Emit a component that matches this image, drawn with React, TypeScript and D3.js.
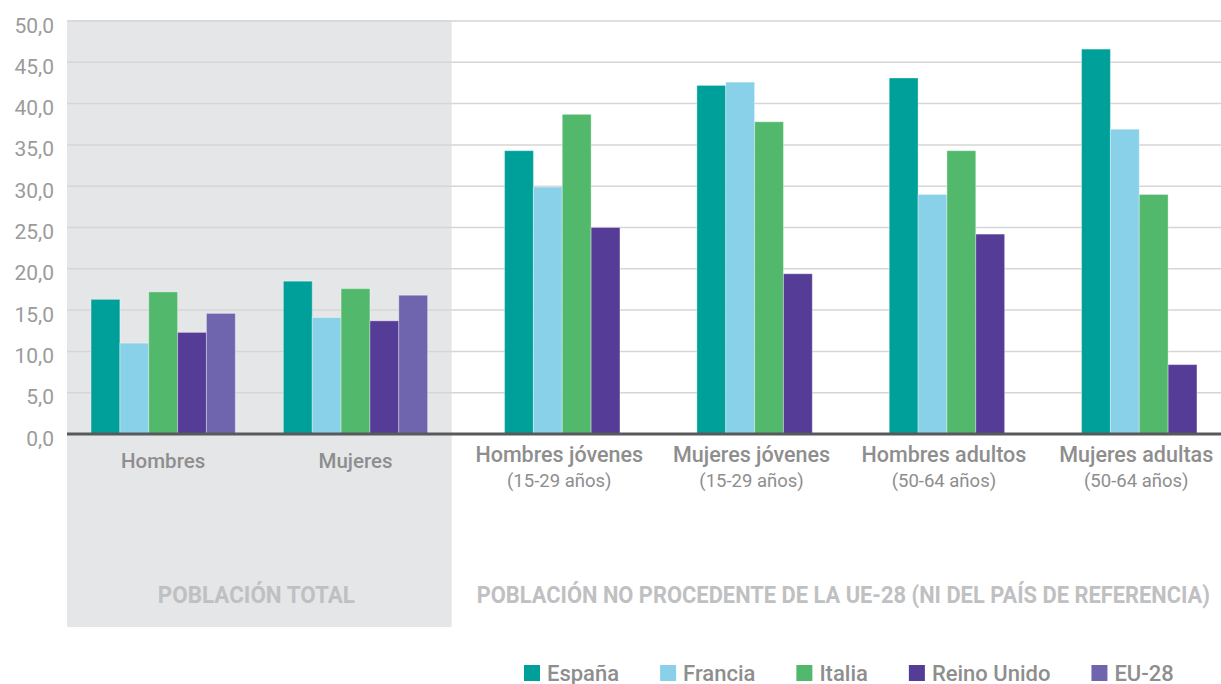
import React, { useEffect, useRef } from 'react';
import * as d3 from 'd3';

// categories on the x axis, with a second line for the age groups
const categories = ['Hombres', 'Mujeres', 'Hombres jóvenes', 'Mujeres jóvenes', 'Hombres adultos', 'Mujeres adultas'];
const subLabels = ['', '', '(15-29 años)', '(15-29 años)', '(50-64 años)', '(50-64 años)'];

const seriesNames = ['España', 'Francia', 'Italia', 'Reino Unido', 'EU-28'];
const seriesColors = ['#00A09A', '#89D1E8', '#52B96C', '#553C96', '#6E65AE'];

const espana = [16.3, 18.5, 34.3, 42.2, 43.1, 46.6];
const francia = [11.0, 14.1, 29.9, 42.6, 29.0, 36.9];
const italia = [17.2, 17.6, 38.7, 37.8, 34.3, 29.0];
const reinoUnido = [12.3, 13.7, 25.0, 19.4, 24.2, 8.4];
const eu28 = [14.6, 16.8, null, null, null, null];

const yTicks = [0, 5, 10, 15, 20, 25, 30, 35, 40, 45, 50];

const panelLabels = ['POBLACIÓN TOTAL', 'POBLACIÓN NO PROCEDENTE DE LA UE-28 (NI DEL PAÍS DE REFERENCIA)'];
const panelSpans = [[0, 1], [2, 5]];

const W = 1221;
const H = 684;
const margin = { top: 21, right: 0, bottom: 250, left: 67 };
const FONT = 'Roboto, "DejaVu Sans", sans-serif';

const App = () => {
    const svgRef = useRef(null);

    useEffect(() => {
        const svg = d3.select(svgRef.current);
        svg.selectAll('*').remove();

        const series = [espana, francia, italia, reinoUnido, eu28];
        const y0 = H - margin.bottom;

        const x = d3.scaleBand()
            .domain(categories)
            .range([margin.left, W - margin.right])
            .paddingInner(0.25)
            .paddingOuter(0.125);
        const step = x.step();

        const slot = d3.scaleBand()
            .domain(d3.range(seriesNames.length))
            .range([0, x.bandwidth()]);

        const y = d3.scaleLinear().domain([0, 50]).range([y0, margin.top]);

        // groups without EU-28 start one slot later (as in the original chart)
        const shiftFor = (ci) => (eu28[ci] == null ? 1 : 0);
        const barX = (ci, si) => x(categories[ci]) + slot(si + shiftFor(ci));
        const groupCenter = (ci) => {
            const n = series.filter(s => s[ci] != null).length;
            return x(categories[ci]) + slot(shiftFor(ci)) + (n * slot.bandwidth()) / 2;
        };

        // grey panel behind "población total"
        const p0 = panelSpans[0];
        svg.append('rect')
            .attr('x', margin.left + step * p0[0])
            .attr('y', margin.top - 1)
            .attr('width', step * (p0[1] - p0[0] + 1))
            .attr('height', 627 - margin.top + 1)
            .attr('fill', '#E5E6E8');

        // gridlines
        svg.append('g')
            .selectAll('line')
            .data(yTicks.filter(t => t > 0))
            .join('line')
            .attr('x1', margin.left)
            .attr('x2', W - margin.right)
            .attr('y1', d => y(d))
            .attr('y2', d => y(d))
            .attr('stroke', '#D6D6D6')
            .attr('stroke-width', 1.5);

        // bars
        series.forEach((vals, si) => {
            svg.append('g')
                .selectAll('rect')
                .data(vals.map((v, ci) => ({ v, ci })).filter(d => d.v != null))
                .join('rect')
                .attr('x', d => barX(d.ci, si))
                .attr('y', d => y(d.v))
                .attr('width', slot.bandwidth())
                .attr('height', d => y0 - y(d.v))
                .attr('fill', seriesColors[si])
                .attr('stroke', 'rgba(255,255,255,0.35)')
                .attr('stroke-width', 1);
        });

        // zero axis
        svg.append('line')
            .attr('x1', margin.left)
            .attr('x2', W - margin.right)
            .attr('y1', y0)
            .attr('y2', y0)
            .attr('stroke', '#58595B')
            .attr('stroke-width', 3);

        // y tick labels
        svg.append('g')
            .selectAll('text')
            .data(yTicks)
            .join('text')
            .attr('x', 54)
            .attr('y', d => y(d) + 11.5)
            .attr('text-anchor', 'end')
            .attr('font-family', FONT)
            .attr('font-size', 21)
            .attr('fill', '#9B9B9B')
            .text(d => d3.format('.1f')(d).replace('.', ','));

        // category labels
        const cat = svg.append('g')
            .attr('font-family', FONT)
            .attr('fill', '#8E8E8E')
            .attr('font-weight', 500)
            .attr('text-anchor', 'middle');
        categories.forEach((c, ci) => {
            const cx = groupCenter(ci);
            const hasSub = subLabels[ci] !== '';
            cat.append('text')
                .attr('x', cx - (hasSub ? 3 : 0))
                .attr('y', hasSub ? 462 : 468)
                .attr('font-size', hasSub ? 21.5 : 20.5)
                .text(c);
            if (hasSub) {
                cat.append('text')
                    .attr('x', cx - 3)
                    .attr('y', 487)
                    .attr('font-size', 18.5)
                    .attr('font-weight', 400)
                    .text(subLabels[ci]);
            }
        });

        // panel titles
        panelLabels.forEach((label, i) => {
            const [a, b] = panelSpans[i];
            const left = margin.left + step * a;
            const right = margin.left + step * (b + 1);
            const t = svg.append('text')
                .attr('x', (left + right) / 2 + (i === 0 ? -3 : 7))
                .attr('y', 603)
                .attr('text-anchor', 'middle')
                .attr('font-family', FONT)
                .attr('font-weight', 700)
                .attr('font-size', 23)
                .attr('fill', '#BFC0C2')
                .text(label);
            if (i === 1) t.attr('textLength', right - left - 36).attr('lengthAdjust', 'spacingAndGlyphs');
            else t.attr('textLength', 197).attr('lengthAdjust', 'spacingAndGlyphs');
        });

        // legend
        const legend = svg.append('g').attr('font-family', FONT);
        let lx = 524;
        seriesNames.forEach((name, si) => {
            legend.append('rect')
                .attr('x', lx)
                .attr('y', 665)
                .attr('width', 16)
                .attr('height', 16)
                .attr('fill', seriesColors[si]);
            const t = legend.append('text')
                .attr('x', lx + 23)
                .attr('y', 681)
                .attr('font-size', 22)
                .attr('font-weight', 500)
                .attr('fill', '#8E8E8E')
                .text(name);
            lx += 23 + t.node().getComputedTextLength() + 41;
        });
    }, []);

    return (
        <div>
            <style>{'body{margin:0;background:#fff}'}</style>
            <svg ref={svgRef} width={W} height={H} style={{ display: 'block' }}></svg>
        </div>
    );
};

export default App;
